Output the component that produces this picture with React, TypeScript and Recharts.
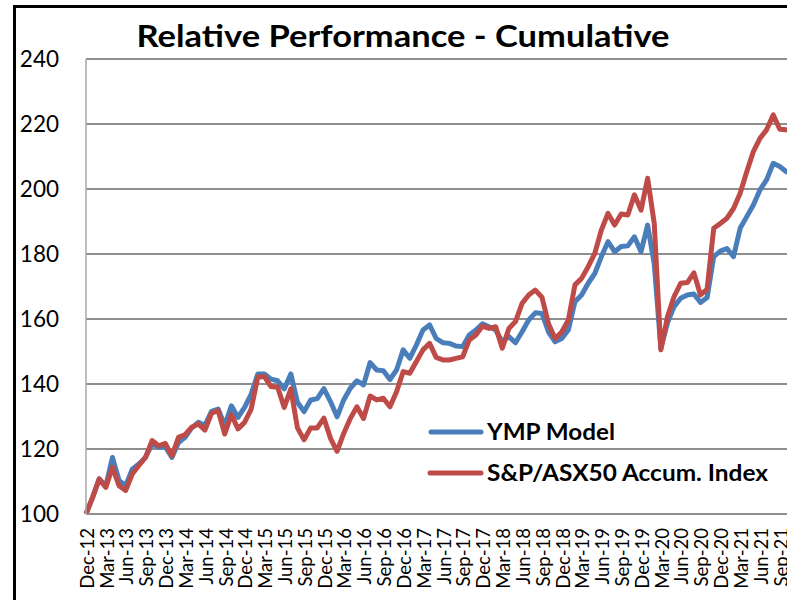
import { LineChart, Line, XAxis, YAxis, CartesianGrid } from "recharts";

const MONTH_NAMES = ["Jan", "Feb", "Mar", "Apr", "May", "Jun", "Jul", "Aug", "Sep", "Oct", "Nov", "Dec"];

// Dec-12 .. Nov-21, one label per month
const months = Array.from({ length: 108 }, (_, i) => {
  const m = (11 + i) % 12;
  const yr = 12 + Math.floor((11 + i) / 12);
  return `${MONTH_NAMES[m]}-${yr}`;
});

const ympModel = [
  100, 105.1, 110.8, 108.7, 117.4, 110.3, 108.7, 113.8, 115.4, 117.4, 121.5, 120.5,
  120.7, 117.4, 122, 123.6, 126.5, 128.2, 127.2, 131.6, 132.3, 127.2, 133.3, 129.7,
  132.8, 136.9, 143.1, 143.1, 141.5, 141, 138.5, 143.1, 134.4, 131.5, 135.1, 135.5,
  138.6, 134.6, 129.9, 135.1, 138.7, 141, 139.7, 146.6, 144.3, 144.1, 141.4, 144.3,
  150.5, 147.9, 152, 156.6, 158.2, 154, 152.7, 152.5, 151.7, 151.5, 155.1, 156.6,
  158.5, 157.6, 156.6, 153, 154.6, 152.7, 156.1, 159.7, 161.9, 161.7, 156, 153,
  154, 156.6, 165.3, 167.4, 171, 174, 179.2, 183.8, 180.7, 182.3, 182.5, 185.3,
  180.7, 188.9, 177, 151, 158.8, 163.8, 166.4, 167.4, 167.7, 165.1, 166.6, 179.2,
  180.9, 181.7, 179.2, 187.9, 191.5, 195.1, 199.7, 202.8, 207.9, 206.9, 205.3, 204.8,
];

const asx50Index = [
  100, 105.1, 110.8, 108.2, 114.4, 108.7, 107.2, 112.3, 114.9, 117.4, 122.6, 121,
  121.7, 117.9, 123.6, 124.4, 126.7, 127.7, 125.8, 131, 131.8, 124.6, 130.6, 126.2,
  128.2, 132.3, 142.1, 142.3, 139.2, 139, 132.8, 138.5, 126.5, 122.8, 126.5, 126.5,
  129.5, 123.3, 119.3, 124.8, 129.4, 133, 129.4, 136.3, 135.1, 135.6, 133, 137.6,
  143.8, 143.3, 146.9, 150.5, 152.5, 148.2, 147.4, 147.4, 147.9, 148.4, 153.5, 155.1,
  157.8, 157.1, 157.6, 151, 157.1, 159.2, 164.8, 167.4, 168.9, 166.7, 158.5, 154,
  156, 159.7, 170.5, 172.5, 176.1, 180.2, 187.4, 192.5, 188.9, 192.3, 192, 198.2,
  193.5, 203.3, 189.4, 150.5, 160.7, 166.9, 171, 171.2, 174.2, 167.4, 169.2, 187.9,
  189.4, 191, 194, 198.7, 205.3, 211.5, 215.6, 218.2, 222.8, 218.4, 218.2, 217.8,
];

const yTicks = [100, 120, 140, 160, 180, 200, 220, 240];

const data = months.map((m, i) => ({ month: m, ymp: ympModel[i], asx: asx50Index[i] }));

const BLUE = "#4A7EBB";
const RED = "#BE4B48";
const FONT = "Lato, 'Open Sans', sans-serif";

function MonthTick({ x, y, payload }: any) {
  return (
    <text
      x={x}
      y={y}
      transform={`rotate(-90, ${x}, ${y})`}
      textAnchor="end"
      dy="0.42em"
      fontSize={18.5}
      fontFamily={FONT}
      fill="#000"
    >
      {payload.value}
    </text>
  );
}

export default function App() {
  return (
    <div
      style={{
        position: "fixed",
        left: 0,
        top: 0,
        width: 787,
        height: 600,
        overflow: "hidden",
        background: "#fff",
      }}
    >
      <div
        style={{
          position: "absolute",
          left: 13,
          top: 5,
          width: 900,
          height: 700,
          border: "3px solid #000",
        }}
      />
      <div style={{ position: "absolute", left: 0, top: 0 }}>
        <LineChart width={850} height={600} data={data} margin={{ top: 59, right: 57, left: 16, bottom: 6 }}>
          <CartesianGrid horizontal vertical={false} stroke="#8E8E8E" strokeWidth={2} />
          <XAxis
            dataKey="month"
            interval={2}
            height={80}
            tick={<MonthTick />}
            tickLine={false}
            tickSize={0}
            tickMargin={14}
            axisLine={{ stroke: "#8E8E8E", strokeWidth: 2 }}
          />
          <YAxis
            domain={[100, 240]}
            ticks={yTicks}
            width={70}
            tickLine={false}
            tickSize={0}
            tickMargin={27}
            axisLine={{ stroke: "#A8A8A8", strokeWidth: 1.5 }}
            tick={{ fontSize: 22.5, fontFamily: FONT, fill: "#000" }}
          />
          <Line
            dataKey="ymp"
            stroke={BLUE}
            strokeWidth={5}
            dot={false}
            strokeLinejoin="round"
            isAnimationActive={false}
          />
          <Line
            dataKey="asx"
            stroke={RED}
            strokeWidth={5}
            dot={false}
            strokeLinejoin="round"
            isAnimationActive={false}
          />
        </LineChart>
      </div>
      <svg
        width={787}
        height={600}
        style={{ position: "absolute", left: 0, top: 0, pointerEvents: "none" }}
      >
        <text
          x={403}
          y={47}
          textAnchor="middle"
          fontSize={30}
          fontWeight="bold"
          fontFamily={FONT}
          fill="#000"
          textLength={533}
          lengthAdjust="spacingAndGlyphs"
        >
          Relative Performance - Cumulative
        </text>
        <line x1={431} y1={432} x2={481} y2={432} stroke={BLUE} strokeWidth={5} strokeLinecap="round" />
        <text
          x={487}
          y={440}
          fontSize={23}
          fontWeight="bold"
          fontFamily={FONT}
          fill="#000"
          textLength={128}
          lengthAdjust="spacingAndGlyphs"
        >
          YMP Model
        </text>
        <line x1={430} y1={473} x2={481} y2={473} stroke={RED} strokeWidth={5} strokeLinecap="round" />
        <text
          x={487}
          y={481}
          fontSize={23}
          fontWeight="bold"
          fontFamily={FONT}
          fill="#000"
          textLength={281}
          lengthAdjust="spacingAndGlyphs"
        >
          S&amp;P/ASX50 Accum. Index
        </text>
      </svg>
    </div>
  );
}
